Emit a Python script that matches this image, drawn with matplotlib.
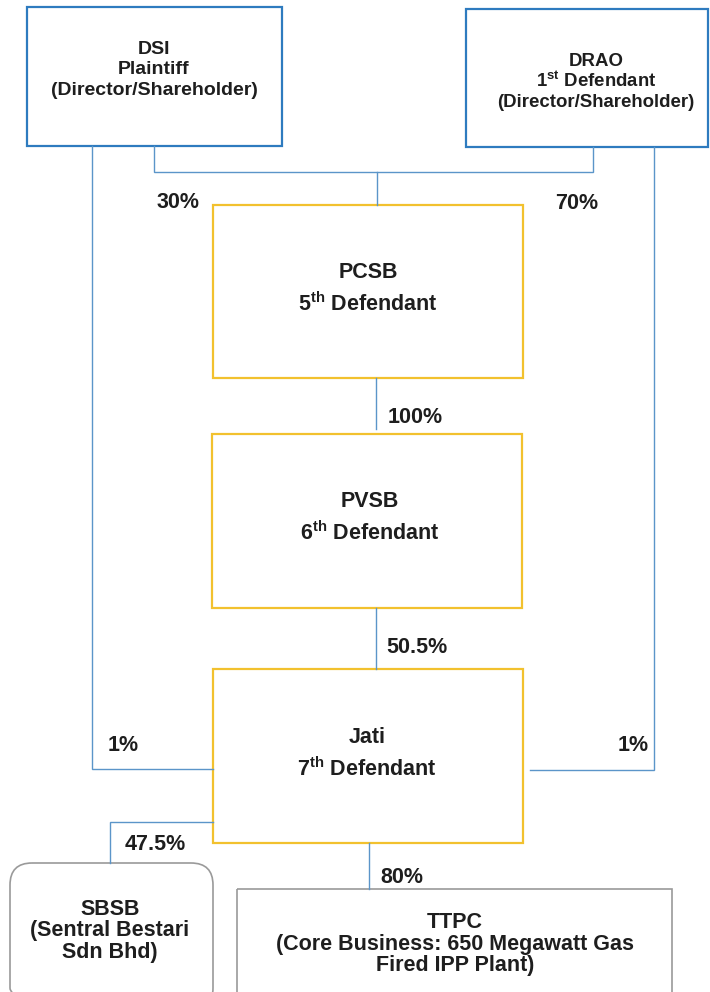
import matplotlib
matplotlib.use("Agg")
import matplotlib.pyplot as plt
from matplotlib.patches import Rectangle, FancyBboxPatch

plt.rcParams['font.family'] = ['Liberation Sans', 'DejaVu Sans']
plt.rcParams['mathtext.fontset'] = 'custom'
plt.rcParams['mathtext.rm'] = 'Liberation Sans'
plt.rcParams['mathtext.bf'] = 'Liberation Sans:bold'

# ---- data ----
node_names = ["DSI", "DRAO", "PCSB", "PVSB", "Jati", "SBSB", "TTPC"]
node_lines = [
    ["DSI", "Plaintiff", "(Director/Shareholder)"],
    ["DRAO", "1$^{\\mathbf{st}}$ Defendant", "(Director/Shareholder)"],
    ["PCSB", "5$^{\\mathbf{th}}$ Defendant"],
    ["PVSB", "6$^{\\mathbf{th}}$ Defendant"],
    ["Jati", "7$^{\\mathbf{th}}$ Defendant"],
    ["SBSB", "(Sentral Bestari", "Sdn Bhd)"],
    ["TTPC", "(Core Business: 650 Megawatt Gas", "Fired IPP Plant)"],
]
share_labels = ["30%", "70%", "100%", "50.5%", "1%", "1%", "47.5%", "80%"]

# ---- layout (pixel coordinates) ----
W, H = 710, 992
fig = plt.figure(figsize=(W / 100, H / 100), dpi=100)
ax = fig.add_axes([0, 0, 1, 1])
ax.set_xlim(0, W)
ax.set_ylim(H, 0)
ax.axis('off')

BLUE = '#2e7bbf'
GOLD = '#f2c12e'
LINE = '#5b95c9'
GREY = '#9a9a9a'
TXT = '#1e1e1e'

# boxes: x0, y0, x1, y1, colour, text centre x, line centre ys, fontsize
boxes = [
    (27, 7, 282, 146, BLUE, 154, [47, 67, 88], 14),
    (466, 9, 708, 147, BLUE, 596, [59, 80, 100], 13.4),
    (213, 205, 523, 378, GOLD, 368, [270, 303], 15.5),
    (212, 434, 522, 608, GOLD, 370, [499, 532], 15.5),
    (213, 669, 523, 843, GOLD, 367, [735, 768], 15.5),
    (10, 863, 213, 1010, GREY, 110, [907, 928, 950], 15.5),
    (237, 889, 672, 1010, GREY, 455, [920, 942, 963], 15.5),
]

def cap_half(fs):
    return 0.716 * fs * 100 / 72 / 2

for i, (x0, y0, x1, y1, col, tx, tys, fs) in enumerate(boxes):
    if node_names[i] == "SBSB":
        p = FancyBboxPatch((x0, y0), x1 - x0, y1 - y0,
                           boxstyle="round,pad=0,rounding_size=22",
                           fill=False, ec=col, lw=1.2)
    else:
        p = Rectangle((x0, y0), x1 - x0, y1 - y0, fill=False, ec=col,
                      lw=1.2 if col == GREY else 1.6)
    ax.add_patch(p)
    for line, ty in zip(node_lines[i], tys):
        ax.text(tx, ty + cap_half(fs), line, ha='center', va='baseline',
                fontsize=fs, fontweight='bold', color=TXT)

# connectors
segs = [
    [(154, 146), (154, 172), (593, 172), (593, 147)],
    [(377, 172), (377, 205)],
    [(376, 378), (376, 429)],
    [(376, 608), (376, 669)],
    [(92, 146), (92, 769), (213, 769)],
    [(654, 147), (654, 770), (530, 770)],
    [(213, 822), (110, 822), (110, 863)],
    [(369, 843), (369, 889)],
]
for s in segs:
    xs, ys = zip(*s)
    ax.plot(xs, ys, color=LINE, lw=1.0, solid_joinstyle='miter')

label_pos = [(178, 200), (577, 201), (415, 415), (417, 645),
             (123, 743), (633, 743), (155, 842), (402, 875)]
for lab, (x, y) in zip(share_labels, label_pos):
    ax.text(x, y + cap_half(15.5), lab, ha='center', va='baseline',
            fontsize=15.5, fontweight='bold', color=TXT)

fig.savefig('out.png', dpi=100, facecolor='white')
